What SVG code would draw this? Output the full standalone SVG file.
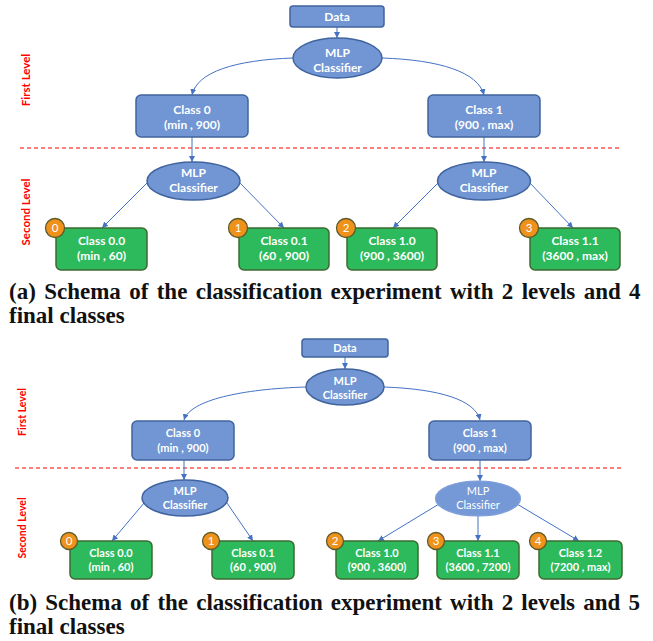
<svg xmlns="http://www.w3.org/2000/svg" width="653" height="641" viewBox="0 0 653 641">
<style>
  .bg{fill:#ffffff}
  .blue{fill:#7196d3;stroke:#41649f;stroke-width:1.5}
  .blue2{fill:#7598d6;stroke:#7f9fd8;stroke-width:1.2}
  .green{fill:#2cba5c;stroke:#3d6a31;stroke-width:1.5}
  .badge{fill:#ef921c;stroke:#5e5a28;stroke-width:1.3}
  .t{font-family:Lato,"Liberation Sans",sans-serif;font-weight:bold;fill:#ffffff;text-anchor:middle;font-size:12px}
  .ts{font-family:Lato,"Liberation Sans",sans-serif;font-weight:bold;fill:#ffffff;text-anchor:middle;font-size:11px}
  .tn{font-family:Lato,"Liberation Sans",sans-serif;font-weight:normal;fill:#ffffff;text-anchor:middle;font-size:11px}
  .num{font-family:Lato,"Liberation Sans",sans-serif;fill:#ffffff;text-anchor:middle;font-size:11.5px}
  .lvl{font-family:Lato,"Liberation Sans",sans-serif;font-weight:bold;fill:#ff0000;text-anchor:middle;font-size:11.5px}
  .lvls{font-family:Lato,"Liberation Sans",sans-serif;font-weight:bold;fill:#ff0000;text-anchor:middle;font-size:10.5px}
  .dash{stroke:#ff0000;stroke-width:1.2;stroke-dasharray:4 3;fill:none}
  .cap{font-family:"Liberation Serif",serif;font-weight:bold;fill:#111111;font-size:23px}
  .con{stroke:#4472c4;stroke-width:1;fill:none;marker-end:url(#ah)}
</style>
<defs>
  <marker id="ah" markerUnits="userSpaceOnUse" viewBox="0 0 6 6" refX="6" refY="3" markerWidth="6" markerHeight="6" orient="auto">
    <path d="M0,0 L6,3 L0,6 z" fill="#4472c4"/>
  </marker>
</defs>
<rect class="bg" x="0" y="0" width="653" height="641"/>

<!-- ===== Diagram (a) ===== -->
<g id="a-levels">
  <line class="dash" x1="20" y1="148" x2="622" y2="148"/>
  <text class="lvl" transform="translate(30,80) rotate(-90)">First Level</text>
  <text class="lvl" transform="translate(30,212) rotate(-90)">Second Level</text>
</g>

<g id="a-connectors">
  <line class="con" x1="337" y1="27" x2="337" y2="38"/>
  <path class="con" d="M293,58 C235,60 197,72 192,95"/>
  <path class="con" d="M382,58 C440,60 478,72 484,95"/>
  <line class="con" x1="192" y1="137" x2="192" y2="162"/>
  <line class="con" x1="484" y1="137" x2="484" y2="162"/>
  <line class="con" x1="148" y1="182" x2="102" y2="228"/>
  <line class="con" x1="239" y1="182" x2="284" y2="228"/>
  <line class="con" x1="439" y1="182" x2="393" y2="228"/>
  <line class="con" x1="529" y1="182" x2="573" y2="228"/>
</g>

<g id="a-data">
  <rect class="blue" x="290" y="6" width="94" height="21" rx="3"/>
  <text class="t" x="337" y="21">Data</text>
</g>
<g id="a-mlp1">
  <ellipse class="blue" cx="337.5" cy="58" rx="44.5" ry="20"/>
  <text class="t" x="337.5" y="57">MLP</text>
  <text class="t" x="337.5" y="72">Classifier</text>
</g>
<g id="a-class0">
  <rect class="blue" x="136" y="95" width="112" height="42" rx="5"/>
  <text class="t" x="192" y="114">Class 0</text>
  <text class="t" x="192" y="129">(min , 900)</text>
</g>
<g id="a-class1">
  <rect class="blue" x="428" y="95" width="112" height="42" rx="5"/>
  <text class="t" x="484" y="114">Class 1</text>
  <text class="t" x="484" y="129">(900 , max)</text>
</g>
<g id="a-mlp2">
  <ellipse class="blue" cx="193.5" cy="181" rx="46.5" ry="19"/>
  <text class="t" x="193.5" y="177">MLP</text>
  <text class="t" x="193.5" y="192">Classifier</text>
</g>
<g id="a-mlp3">
  <ellipse class="blue" cx="484" cy="181" rx="46.5" ry="19"/>
  <text class="t" x="484" y="177">MLP</text>
  <text class="t" x="484" y="192">Classifier</text>
</g>
<g id="a-class00">
  <rect class="green" x="56" y="228" width="91" height="42" rx="5"/>
  <text class="t" x="101.5" y="245">Class 0.0</text>
  <text class="t" x="101.5" y="260">(min , 60)</text>
  <circle class="badge" cx="55" cy="228" r="9.5"/>
  <text class="num" x="55" y="232">0</text>
</g>
<g id="a-class01">
  <rect class="green" x="239" y="228" width="90" height="42" rx="5"/>
  <text class="t" x="284" y="245">Class 0.1</text>
  <text class="t" x="284" y="260">(60 , 900)</text>
  <circle class="badge" cx="238" cy="228" r="9.5"/>
  <text class="num" x="238" y="232">1</text>
</g>
<g id="a-class10">
  <rect class="green" x="347" y="228" width="90" height="42" rx="5"/>
  <text class="t" x="392" y="245">Class 1.0</text>
  <text class="t" x="392" y="260">(900 , 3600)</text>
  <circle class="badge" cx="346" cy="228" r="9.5"/>
  <text class="num" x="346" y="232">2</text>
</g>
<g id="a-class11">
  <rect class="green" x="530" y="228" width="90" height="42" rx="5"/>
  <text class="t" x="575" y="245">Class 1.1</text>
  <text class="t" x="575" y="260">(3600 , max)</text>
  <circle class="badge" cx="529" cy="228" r="9.5"/>
  <text class="num" x="529" y="232">3</text>
</g>

<g id="caption-a">
  <text class="cap" x="9" y="299" word-spacing="2.6">(a) Schema of the classification experiment with 2 levels and 4</text>
  <text class="cap" x="9" y="323">final classes</text>
</g>

<!-- ===== Diagram (b) ===== -->
<g id="b-levels">
  <line class="dash" x1="15" y1="468" x2="622" y2="468"/>
  <text class="lvls" transform="translate(26,412) rotate(-90)">First Level</text>
  <text class="lvls" transform="translate(26,528) rotate(-90)">Second Level</text>
</g>

<g id="b-connectors">
  <line class="con" x1="345" y1="357" x2="345" y2="369"/>
  <path class="con" d="M306,387 C242,389 190,400 184,420"/>
  <path class="con" d="M384,387 C440,389 475,400 480,420"/>
  <line class="con" x1="184" y1="460" x2="184" y2="480"/>
  <line class="con" x1="480" y1="460" x2="480" y2="481"/>
  <line class="con" x1="144" y1="503" x2="112" y2="541"/>
  <line class="con" x1="227" y1="503" x2="253" y2="541"/>
  <line class="con" x1="439" y1="504" x2="378" y2="541"/>
  <line class="con" x1="478" y1="516" x2="478" y2="541"/>
  <line class="con" x1="517" y1="504" x2="579" y2="541"/>
</g>

<g id="b-data">
  <rect class="blue" x="302" y="339" width="86" height="18" rx="3"/>
  <text class="ts" x="345" y="352">Data</text>
</g>
<g id="b-mlp1">
  <ellipse class="blue" cx="345" cy="387" rx="39" ry="18"/>
  <text class="ts" x="345" y="385">MLP</text>
  <text class="ts" x="345" y="399">Classifier</text>
</g>
<g id="b-class0">
  <rect class="blue" x="132" y="421" width="102" height="39" rx="5"/>
  <text class="ts" x="183" y="437">Class 0</text>
  <text class="ts" x="183" y="452">(min , 900)</text>
</g>
<g id="b-class1">
  <rect class="blue" x="429" y="421" width="102" height="39" rx="5"/>
  <text class="ts" x="480" y="437">Class 1</text>
  <text class="ts" x="480" y="452">(900 , max)</text>
</g>
<g id="b-mlp2">
  <ellipse class="blue" cx="185" cy="498" rx="43" ry="18"/>
  <text class="ts" x="185" y="495">MLP</text>
  <text class="ts" x="185" y="509">Classifier</text>
</g>
<g id="b-mlp3">
  <ellipse class="blue2" cx="478" cy="498.5" rx="42.5" ry="17.5"/>
  <text class="tn" x="478" y="495">MLP</text>
  <text class="tn" x="478" y="509">Classifier</text>
</g>
<g id="b-class00">
  <rect class="green" x="70" y="541" width="82" height="38" rx="5"/>
  <text class="ts" x="111" y="557">Class 0.0</text>
  <text class="ts" x="111" y="571">(min , 60)</text>
  <circle class="badge" cx="69" cy="541" r="8.5"/>
  <text class="num" x="69" y="545">0</text>
</g>
<g id="b-class01">
  <rect class="green" x="212" y="541" width="82" height="38" rx="5"/>
  <text class="ts" x="253" y="557">Class 0.1</text>
  <text class="ts" x="253" y="571">(60 , 900)</text>
  <circle class="badge" cx="211" cy="541" r="8.5"/>
  <text class="num" x="211" y="545">1</text>
</g>
<g id="b-class10">
  <rect class="green" x="336" y="541" width="82" height="38" rx="5"/>
  <text class="ts" x="377" y="557">Class 1.0</text>
  <text class="ts" x="377" y="571">(900 , 3600)</text>
  <circle class="badge" cx="335" cy="541" r="8.5"/>
  <text class="num" x="335" y="545">2</text>
</g>
<g id="b-class11">
  <rect class="green" x="437" y="541" width="82" height="38" rx="5"/>
  <text class="ts" x="478" y="557">Class 1.1</text>
  <text class="ts" x="478" y="571">(3600 , 7200)</text>
  <circle class="badge" cx="436" cy="541" r="8.5"/>
  <text class="num" x="436" y="545">3</text>
</g>
<g id="b-class12">
  <rect class="green" x="539" y="541" width="83" height="38" rx="5"/>
  <text class="ts" x="580.5" y="557">Class 1.2</text>
  <text class="ts" x="580.5" y="571">(7200 , max)</text>
  <circle class="badge" cx="538" cy="541" r="8.5"/>
  <text class="num" x="538" y="545">4</text>
</g>

<g id="caption-b">
  <text class="cap" x="9" y="610" word-spacing="2.4">(b) Schema of the classification experiment with 2 levels and 5</text>
  <text class="cap" x="9" y="634">final classes</text>
</g>
</svg>
